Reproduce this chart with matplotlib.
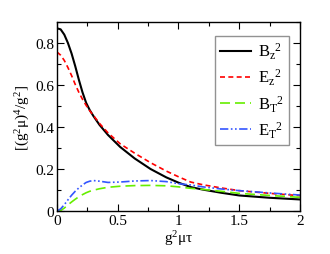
import numpy as np
import matplotlib
matplotlib.use("Agg")
import matplotlib.pyplot as plt
from matplotlib.ticker import MultipleLocator

plt.rcParams['font.family'] = ['Liberation Serif', 'DejaVu Serif']
plt.rcParams['mathtext.fontset'] = 'custom'
plt.rcParams['mathtext.rm'] = 'Liberation Serif'
plt.rcParams['mathtext.it'] = 'Liberation Serif:italic'

# time axis g^2 mu tau
t = [0, 0.03, 0.06, 0.09, 0.12, 0.15, 0.18, 0.21, 0.24, 0.27, 0.3, 0.35,
     0.42, 0.52, 0.64, 0.77, 0.9, 1.0, 1.1, 1.2, 1.35, 1.5, 1.75, 2.0]
bz2 = [0.87, 0.865, 0.84, 0.80, 0.75, 0.69, 0.625, 0.565, 0.515, 0.48, 0.452, 0.41,
       0.362, 0.305, 0.25, 0.20, 0.16, 0.135, 0.114, 0.102, 0.087, 0.074, 0.063, 0.055]
ez2 = [0.757, 0.742, 0.717, 0.683, 0.645, 0.603, 0.565, 0.532, 0.503, 0.477, 0.455, 0.417,
       0.372, 0.32, 0.275, 0.23, 0.19, 0.163, 0.138, 0.125, 0.11, 0.097, 0.084, 0.073]
bt2 = [0, 0.002, 0.014, 0.029, 0.043, 0.056, 0.068, 0.078, 0.087, 0.094, 0.099, 0.106,
       0.113, 0.118, 0.121, 0.122, 0.12, 0.115, 0.108, 0.103, 0.094, 0.084, 0.074, 0.065]
et2 = [0, 0.01, 0.03, 0.053, 0.075, 0.094, 0.11, 0.124, 0.136, 0.142, 0.145, 0.142,
       0.136, 0.138, 0.143, 0.145, 0.14, 0.13, 0.124, 0.115, 0.105, 0.097, 0.086, 0.076]

fig = plt.figure(figsize=(3.3, 2.55), dpi=100)
ax = fig.add_axes([0.1727, 0.1686, 0.7364, 0.7412])

ax.plot(t, bz2, color='black', lw=1.5, ls='-', label=r'$\mathrm{B_z}^{2}$')
ax.plot(t, ez2, color='#ff0000', lw=1.2, ls=(0, (3, 2)), label=r'$\mathrm{E_z}^{2}$')
ax.plot(t, bt2, color='#66ee00', lw=1.2, ls=(0, (6, 3)), label=r'$\mathrm{B_T}^{2}$')
ax.plot(t, et2, color='#3355ff', lw=1.2, ls=(0, (5, 1.5, 1, 1.5, 1, 1.5)),
        label=r'$\mathrm{E_T}^{2}$')

ax.set_xlim(0, 2)
ax.set_ylim(0, 0.9)
ax.xaxis.set_minor_locator(MultipleLocator(0.25))
ax.yaxis.set_minor_locator(MultipleLocator(0.1))
ax.set_xticks([0, 0.5, 1, 1.5, 2])
ax.set_xticklabels(['0', '0.5', '1', '1.5', '2'], fontsize=11)
ax.set_yticks([0, 0.2, 0.4, 0.6, 0.8])
ax.set_yticklabels(['0', '0.2', '0.4', '0.6', '0.8'], fontsize=11)
ax.tick_params(which='both', direction='in', top=True, right=True, width=0.8)
ax.tick_params(which='major', length=5, pad=2)
ax.tick_params(which='minor', length=3)
for s in ax.spines.values():
    s.set_linewidth(1.0)

ax.set_xlabel(r'$\mathrm{g^2\mu\tau}$', fontsize=11, labelpad=1)
ax.set_ylabel(r'$\mathrm{[(g^2\mu)^4/g^2]}$', fontsize=11, labelpad=2)

leg = ax.legend(loc='upper right', bbox_to_anchor=(0.955, 0.926), borderaxespad=0,
                fontsize=12, fancybox=False, handlelength=1.9, handletextpad=0.4,
                labelspacing=0.35, borderpad=0.3)
leg.get_frame().set_edgecolor('#777777')
leg.get_frame().set_linewidth(1.0)

fig.savefig('out.png', dpi=100)
